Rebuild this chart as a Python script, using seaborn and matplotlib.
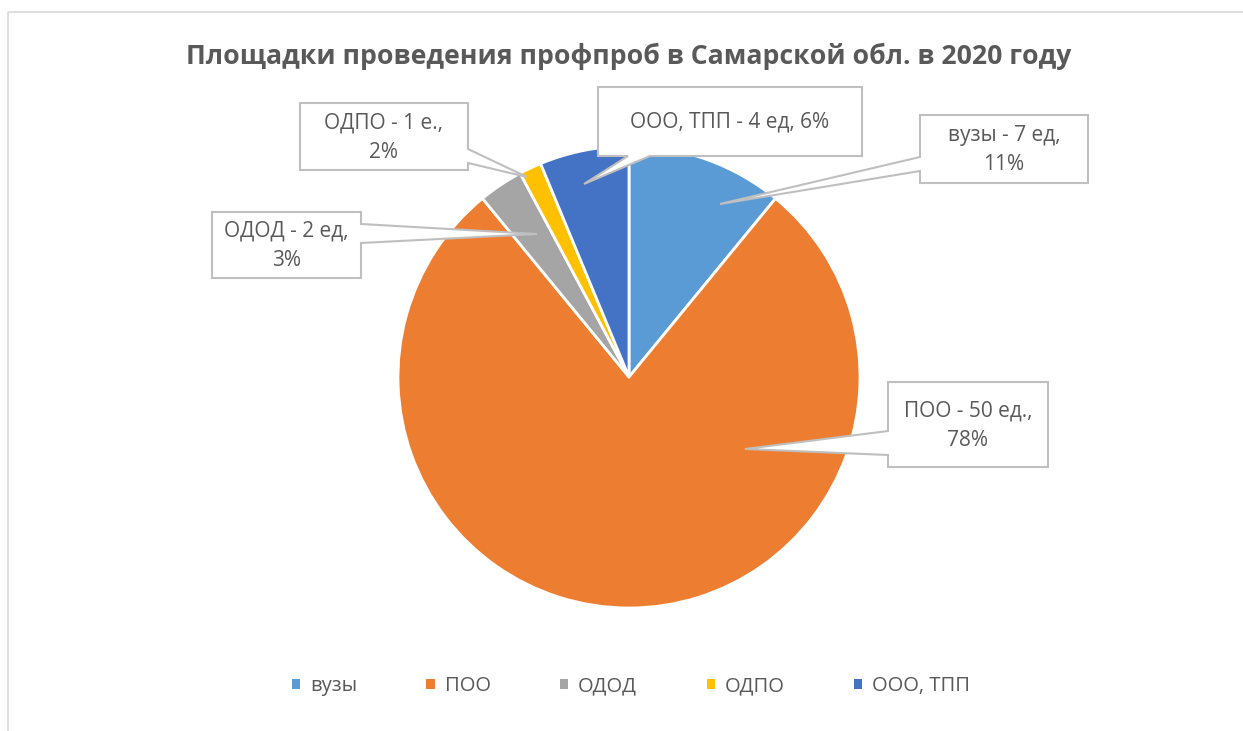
import matplotlib
matplotlib.use("Agg")
import matplotlib.pyplot as plt
from matplotlib.patches import Polygon, Patch
import seaborn as sns

# данные
categories = ["вузы", "ПОО", "ОДОД", "ОДПО", "ООО, ТПП"]
counts = [7, 50, 2, 1, 4]
callout_texts = ["вузы - 7 ед,\n11%", "ПОО - 50 ед.,\n78%", "ОДОД - 2 ед,\n3%",
                 "ОДПО - 1 е.,\n2%", "ООО, ТПП - 4 ед, 6%"]
colors = ["#5B9BD5", "#ED7D31", "#A5A5A5", "#FFC000", "#4472C4"]
title = "Площадки проведения профпроб в Самарской обл. в 2020 году"

W, H = 1243, 731
TXT = "#595959"
FONT = ["Open Sans", "DejaVu Sans"]

sns.set_style("white")
plt.rcParams["font.family"] = FONT

fig = plt.figure(figsize=(W / 100, H / 100), dpi=100)

# пирог: центр (629, 377), радиус 231 px
cx, cy, r = 629, 377, 231
ax = fig.add_axes([(cx - r) / W, 1 - (cy + r) / H, 2 * r / W, 2 * r / H])
wedges, _ = ax.pie(counts, colors=sns.color_palette(colors), startangle=90,
                   counterclock=False,
                   wedgeprops=dict(edgecolor="white", linewidth=2))
ax.set_xlim(-1, 1)
ax.set_ylim(-1, 1)
ax.set_aspect("equal")

# слой для рамки, подписей и выносок в пикселях
ov = fig.add_axes([0, 0, 1, 1], zorder=5)
ov.set_xlim(0, W)
ov.set_ylim(H, 0)
ov.axis("off")
ov.patch.set_alpha(0)

# рамка диаграммы
ov.plot([8, 8, W + 5], [H + 5, 12, 12], color="#D9D9D9", lw=1.2)

ov.text(629, 56, title, ha="center", va="center", fontsize=19.2,
        fontweight="bold", color=TXT)

# выноски: (прямоугольник), сторона, основание клина, вершина
callouts = [
    ((920, 115, 1088, 183), "left", (157, 171), (720, 204)),
    ((888, 382, 1048, 467), "left", (431, 455), (745, 449)),
    ((212, 212, 361, 278), "right", (224, 243), (537, 234)),
    ((300, 103, 468, 170), "right", (149, 163), (527, 177)),
    ((598, 87, 862, 156), "bottom", (628, 650), (584, 184)),
]


def callout_poly(box, side, base, apex):
    x0, y0, x1, y1 = box
    a, b = base
    if side == "left":
        pts = [(x0, y0), (x1, y0), (x1, y1), (x0, y1), (x0, b), apex, (x0, a)]
    elif side == "right":
        pts = [(x0, y0), (x1, y0), (x1, a), apex, (x1, b), (x1, y1), (x0, y1)]
    else:
        pts = [(x0, y0), (x1, y0), (x1, y1), (b, y1), apex, (a, y1), (x0, y1)]
    return pts


for (box, side, base, apex), txt in zip(callouts, callout_texts):
    ov.add_patch(Polygon(callout_poly(box, side, base, apex), closed=True,
                         facecolor="white", edgecolor="#BFBFBF", lw=1.5))
    x0, y0, x1, y1 = box
    ov.text((x0 + x1) / 2, (y0 + y1) / 2 + 1, txt, ha="center", va="center",
            fontsize=15, color=TXT, linespacing=1.55)

# легенда
handles = [Patch(facecolor=c, edgecolor="none") for c in colors]
fig.legend(handles, categories, loc="center", bbox_to_anchor=(631 / W, 1 - 686 / H),
           ncol=5, frameon=False, fontsize=14.5, labelcolor=TXT,
           handlelength=0.4, handleheight=0.4, handletextpad=0.5,
           columnspacing=3.45)

fig.savefig("out.png", dpi=100)
